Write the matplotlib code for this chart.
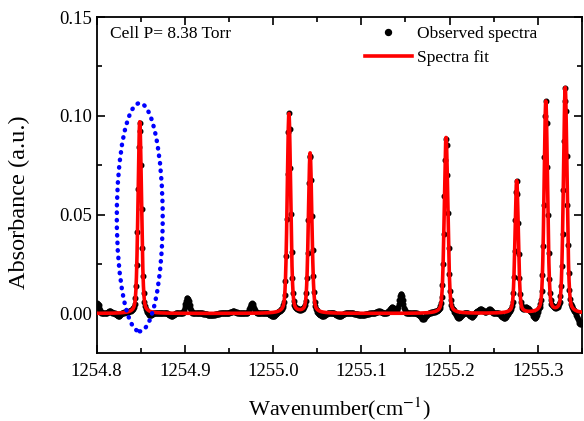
import numpy as np
import matplotlib
matplotlib.use("Agg")
import matplotlib.pyplot as plt
from matplotlib.patches import Ellipse
from matplotlib.ticker import MultipleLocator, FormatStrFormatter

plt.rcParams['font.family'] = ['Liberation Serif', 'DejaVu Serif']
plt.rcParams['mathtext.fontset'] = 'stix'

# Absorption lines (center cm^-1, peak absorbance, FWHM cm^-1)
line_centers = [1254.849, 1255.018, 1255.042, 1255.196, 1255.276, 1255.309, 1255.331]
line_heights = [0.097, 0.101, 0.081, 0.089, 0.067, 0.107, 0.114]
line_fwhm = [0.0046, 0.0046, 0.0046, 0.0048, 0.0044, 0.0046, 0.0048]
lorentz_fraction = 0.3

# Residual baseline features of the observed spectrum (center, amplitude, width)
resid_centers = [1254.801, 1254.815, 1254.903, 1254.976, 1255.000, 1255.055, 1255.135,
                 1255.145, 1255.170, 1255.210, 1255.235, 1255.245, 1255.262, 1255.287,
                 1255.297, 1255.348, 1254.86, 1254.93, 1255.10, 1255.12,
                 1254.825, 1254.885, 1254.955, 1255.075, 1255.225]
resid_amps = [0.005, 0.001, 0.008, 0.005, -0.002, -0.002, 0.003,
              0.010, -0.003, -0.003, 0.002, 0.002, -0.003, 0.002,
              -0.004, -0.006, -0.002, -0.001, -0.001, 0.001,
              -0.0015, -0.0015, 0.001, -0.0015, -0.002]
resid_widths = [0.002, 0.002, 0.0022, 0.0022, 0.003, 0.004, 0.003,
                0.0022, 0.003, 0.003, 0.003, 0.002, 0.003, 0.002,
                0.002, 0.003, 0.003, 0.004, 0.004, 0.003,
                0.002, 0.002, 0.003, 0.003, 0.002]

x_min, x_max = 1254.8, 1255.35
n_points = 700

wn = np.linspace(x_min, x_max, n_points)
wn_fine = np.linspace(x_min, x_max, 5000)


def model(x):
    y = np.zeros_like(x)
    for c, h, f in zip(line_centers, line_heights, line_fwhm):
        g = f / 2
        s = f / 2.3548
        lor = g**2 / ((x - c)**2 + g**2)
        gau = np.exp(-0.5 * ((x - c) / s)**2)
        y += h * (lorentz_fraction * lor + (1 - lorentz_fraction) * gau)
    return y


def residual(x):
    y = np.zeros_like(x)
    for c, a, w in zip(resid_centers, resid_amps, resid_widths):
        y += a * np.exp(-0.5 * ((x - c) / w)**2)
    return y


observed = model(wn) + residual(wn)
fit = model(wn_fine)

fig = plt.figure(figsize=(5.84, 4.21), dpi=100)
ax = fig.add_axes([96.5/584, 1 - 353/421, (582 - 96.5)/584, (353 - 17)/421])

ax.plot(wn, observed, 'o', color='black', ms=3.3, mec='black', label='Observed spectra', zorder=2)
ax.plot(wn_fine, fit, '-', color='red', lw=2.6, label='Spectra fit', zorder=3)

ell = Ellipse((1254.849, 0.0487), width=0.052, height=0.1155, fill=False,
              edgecolor='blue', linestyle=(0, (0.1, 1.6)), lw=3.2, capstyle='round', zorder=4)
ax.add_patch(ell)

ax.set_xlim(x_min, x_max)
ax.set_ylim(-0.02, 0.15)
ax.xaxis.set_major_locator(MultipleLocator(0.1))
ax.xaxis.set_minor_locator(MultipleLocator(0.05))
ax.yaxis.set_major_locator(MultipleLocator(0.05))
ax.yaxis.set_minor_locator(MultipleLocator(0.025))
ax.xaxis.set_major_formatter(FormatStrFormatter('%.1f'))
ax.yaxis.set_major_formatter(FormatStrFormatter('%.2f'))
ax.tick_params(which='both', direction='in', top=True, right=True, labelsize=13.5, width=1.2)
ax.tick_params(which='major', length=6)
ax.tick_params(which='minor', length=3.5)
ax.tick_params(axis='x', pad=7)
for s in ax.spines.values():
    s.set_linewidth(1.3)

ax.set_xlabel('Wavenumber(cm$^{-1}$)', fontsize=16, labelpad=11)
ax.set_ylabel('Absorbance (a.u.)', fontsize=17.5)
ax.yaxis.set_label_coords(-0.137, 0.45)

ax.text(0.028, 0.948, 'Cell P= 8.38 Torr', transform=ax.transAxes, fontsize=12.5,
        va='center', ha='left')

leg = ax.legend(loc='upper right', bbox_to_anchor=(0.94, 1.02), frameon=False, fontsize=12.5,
                handlelength=2.7, handletextpad=0.3, labelspacing=0.45, markerscale=1.3)

fig.savefig('out.png', dpi=100)
